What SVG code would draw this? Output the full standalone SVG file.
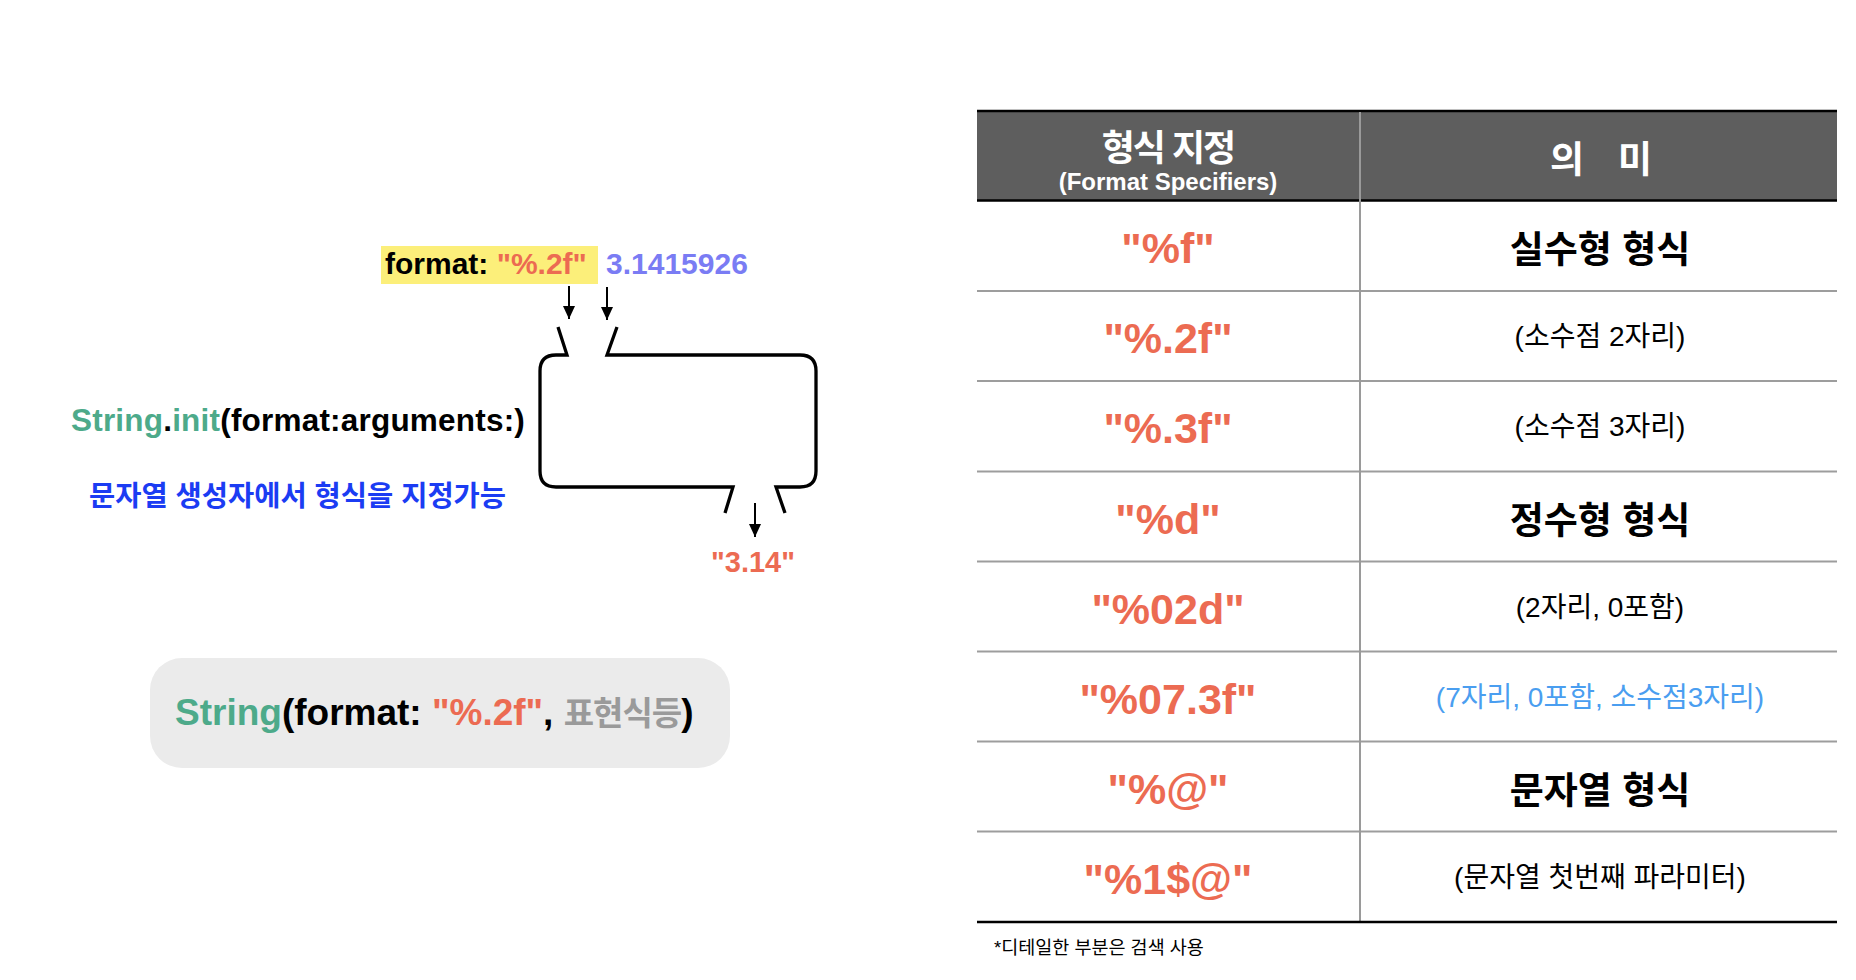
<svg xmlns="http://www.w3.org/2000/svg" width="1856" height="980" viewBox="0 0 1856 980">
<style>
text{font-family:"Liberation Sans","Noto Sans CJK KR",sans-serif;}
.b{font-weight:bold;}
.red{fill:#EC6B52;}
.grn{fill:#4DAA8A;}
.blk{fill:#000;}
.cell{font-size:43px;font-weight:bold;fill:#EC6B52;text-anchor:middle;}
.mb{font-size:37px;font-weight:bold;fill:#000;text-anchor:middle;}
.mr{font-size:28px;fill:#000;text-anchor:middle;}
.hd{fill:#fff;font-weight:bold;text-anchor:middle;}
.rowline{stroke:#9D9D9D;stroke-width:2.2;}
.blackline{stroke:#000;stroke-width:2.5;}
.conn{stroke:#000;stroke-width:2;fill:none;}
.funnel{fill:none;stroke:#000;stroke-width:3.3;stroke-linejoin:miter;stroke-linecap:butt;}
</style>
<defs>
<marker id="ah" markerUnits="userSpaceOnUse" viewBox="0 0 13 12" markerWidth="13" markerHeight="12" refX="13" refY="6" orient="auto">
<path d="M0,0 L13,6 L0,12 z" fill="#000"/>
</marker>
</defs>
<rect x="0" y="0" width="1856" height="980" fill="#fff"/>

<g id="format-input">
<rect x="381" y="246" width="217" height="38" fill="#FCEF7A"/>
<text x="385" y="274" font-size="30" class="b blk">format: <tspan class="red">"%.2f"</tspan></text>
</g>
<g id="value-input">
<text x="606" y="274" font-size="30" class="b" fill="#7A7CF4">3.1415926</text>
</g>

<g id="funnel-box">
<path class="funnel" d="M558,327 L567,355 L556,355 Q540,355 540,371 L540,471 Q540,487 556,487 L733,487 L725,513"/>
<path class="funnel" d="M785,513 L776,487 L800,487 Q816,487 816,471 L816,371 Q816,355 800,355 L607,355 L617,327"/>
</g>

<g id="init-label">
<text x="71" y="431" font-size="31.5" class="b blk" letter-spacing="0.2"><tspan class="grn">String</tspan>.<tspan class="grn">init</tspan>(format:arguments:)</text>
</g>
<g id="description">
<text x="89" y="506" font-size="28.5" class="b" fill="#1B3CF3">문자열 생성자에서 형식을 지정가능</text>
</g>
<g id="output">
<text x="753" y="572" font-size="29" class="b red" text-anchor="middle">"3.14"</text>
</g>

<g id="code-example">
<rect x="150" y="658" width="580" height="110" rx="32" ry="32" fill="#EBEBEB"/>
<text x="175" y="725" font-size="37" class="b blk"><tspan class="grn">String</tspan>(format: <tspan class="red">"%.2f"</tspan>, <tspan fill="#9A9A9A" font-size="33" letter-spacing="-1">표현식등</tspan>)</text>
</g>

<g id="connectors">
<line class="conn" x1="569" y1="286" x2="569" y2="319" marker-end="url(#ah)"/>
<line class="conn" x1="607" y1="287" x2="607" y2="320" marker-end="url(#ah)"/>
<line class="conn" x1="755" y1="503" x2="755" y2="537" marker-end="url(#ah)"/>
</g>

<g id="table">
<g id="table-header">
<rect x="977" y="111" width="860" height="89.5" fill="#5E5E5E"/>
<text x="1168" y="161" font-size="36" class="hd" letter-spacing="-2">형식 지정</text>
<text x="1168" y="190" font-size="24" class="hd">(Format Specifiers)</text>
<text y="173" font-size="37" class="hd"><tspan x="1567">의</tspan><tspan x="1635">미</tspan></text>
</g>
<g id="table-lines">
<line class="blackline" x1="977" y1="111" x2="1837" y2="111"/>
<line class="blackline" x1="977" y1="200.5" x2="1837" y2="200.5"/>
<line class="rowline" x1="977" y1="291" x2="1837" y2="291"/>
<line class="rowline" x1="977" y1="381" x2="1837" y2="381"/>
<line class="rowline" x1="977" y1="471.5" x2="1837" y2="471.5"/>
<line class="rowline" x1="977" y1="561.5" x2="1837" y2="561.5"/>
<line class="rowline" x1="977" y1="651.5" x2="1837" y2="651.5"/>
<line class="rowline" x1="977" y1="741.5" x2="1837" y2="741.5"/>
<line class="rowline" x1="977" y1="831.5" x2="1837" y2="831.5"/>
<line x1="1360" y1="112" x2="1360" y2="921" stroke="#9A9A9A" stroke-width="2"/>
<line class="blackline" x1="977" y1="922" x2="1837" y2="922"/>
</g>
<g id="row-f"><text class="cell" x="1168" y="263">"%f"</text><text class="mb" x="1600" y="263">실수형 형식</text></g>
<g id="row-2f"><text class="cell" x="1168" y="353">"%.2f"</text><text class="mr" x="1600" y="346">(소수점 2자리)</text></g>
<g id="row-3f"><text class="cell" x="1168" y="443">"%.3f"</text><text class="mr" x="1600" y="436">(소수점 3자리)</text></g>
<g id="row-d"><text class="cell" x="1168" y="533.5">"%d"</text><text class="mb" x="1600" y="533.5">정수형 형식</text></g>
<g id="row-02d"><text class="cell" x="1168" y="623.5">"%02d"</text><text class="mr" x="1600" y="616.5">(2자리, 0포함)</text></g>
<g id="row-07-3f"><text class="cell" x="1168" y="713.5">"%07.3f"</text><text class="mr" x="1600" y="706.5" style="fill:#4A9EF0">(7자리, 0포함, 소수점3자리)</text></g>
<g id="row-at"><text class="cell" x="1168" y="803.5">"%@"</text><text class="mb" x="1600" y="803.5">문자열 형식</text></g>
<g id="row-1at"><text class="cell" x="1168" y="893.5">"%1$@"</text><text class="mr" x="1600" y="886.5">(문자열 첫번째 파라미터)</text></g>
</g>

<g id="footnote">
<text x="994" y="954" font-size="18.5" fill="#000">*디테일한 부분은 검색 사용</text>
</g>
</svg>
